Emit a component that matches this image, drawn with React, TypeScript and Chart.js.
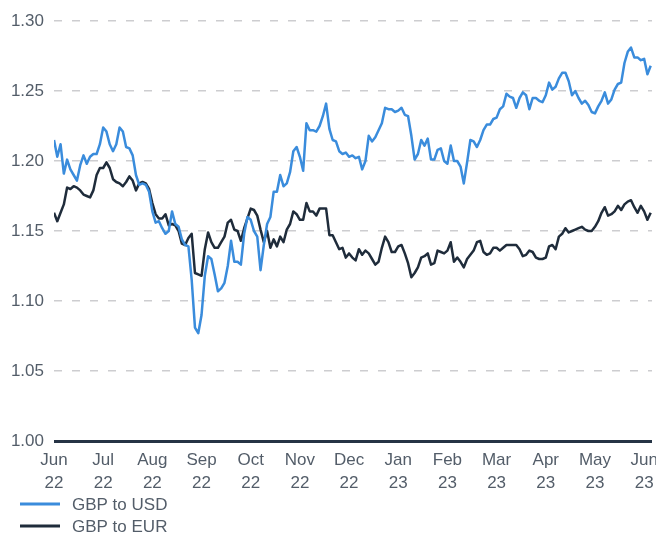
import React, { useEffect, useRef } from "react";
import { Chart, registerables } from "chart.js";

Chart.register(...registerables);

const FONT = '"Liberation Sans", Arial, sans-serif';
const TEXT_COLOR = "#535d69";

const monthLabels: string[][] = [
  ["Jun", "22"], ["Jul", "22"], ["Aug", "22"], ["Sep", "22"], ["Oct", "22"], ["Nov", "22"],
  ["Dec", "22"], ["Jan", "23"], ["Feb", "23"], ["Mar", "23"], ["Apr", "23"], ["May", "23"], ["Jun", "23"],
];
const POINTS_PER_MONTH = 15;

const seriesNames = ["GBP to USD", "GBP to EUR"];
const seriesColors = ["#3a8cdc", "#1f2c3b"];

const gbpUsd = [
  1.215, 1.203, 1.212, 1.191, 1.201, 1.194, 1.190, 1.186, 1.197, 1.204,
  1.198, 1.203, 1.205, 1.205, 1.212, 1.224, 1.221, 1.212, 1.207, 1.212,
  1.224, 1.221, 1.210, 1.209, 1.204, 1.190, 1.183, 1.184, 1.183, 1.178,
  1.164, 1.156, 1.157, 1.152, 1.148, 1.150, 1.164, 1.155, 1.153, 1.144,
  1.140, 1.139, 1.115, 1.081, 1.077, 1.090, 1.118, 1.132, 1.130, 1.119,
  1.107, 1.109, 1.113, 1.125, 1.143, 1.128, 1.128, 1.126, 1.148, 1.160,
  1.158, 1.150, 1.146, 1.122, 1.140, 1.155, 1.160, 1.178, 1.178, 1.190,
  1.182, 1.184, 1.192, 1.207, 1.210, 1.203, 1.193, 1.227, 1.222, 1.222,
  1.221, 1.225, 1.232, 1.241, 1.223, 1.215, 1.214, 1.207, 1.205, 1.206,
  1.203, 1.204, 1.202, 1.203, 1.194, 1.200, 1.218, 1.214, 1.217, 1.222,
  1.227, 1.238, 1.237, 1.237, 1.235, 1.236, 1.238, 1.233, 1.232, 1.218,
  1.201, 1.205, 1.215, 1.211, 1.216, 1.201, 1.201, 1.208, 1.209, 1.200,
  1.198, 1.211, 1.200, 1.200, 1.196, 1.184, 1.199, 1.215, 1.214, 1.210,
  1.215, 1.222, 1.226, 1.226, 1.230, 1.231, 1.237, 1.239, 1.248, 1.246,
  1.245, 1.238, 1.245, 1.249, 1.247, 1.237, 1.245, 1.245, 1.243, 1.242,
  1.247, 1.256, 1.251, 1.253, 1.259, 1.263, 1.263, 1.257, 1.247, 1.250,
  1.245, 1.241, 1.243, 1.240, 1.235, 1.234, 1.239, 1.243, 1.249, 1.241,
  1.244, 1.251, 1.255, 1.256, 1.270, 1.278, 1.281, 1.274, 1.274, 1.272,
  1.273, 1.262, 1.268,
];

const gbpEur = [
  1.163, 1.157, 1.163, 1.169, 1.181, 1.180, 1.182, 1.181, 1.179, 1.176,
  1.175, 1.174, 1.179, 1.190, 1.195, 1.195, 1.199, 1.195, 1.187, 1.185,
  1.184, 1.182, 1.185, 1.189, 1.186, 1.179, 1.184, 1.185, 1.184, 1.180,
  1.170, 1.162, 1.159, 1.159, 1.162, 1.154, 1.155, 1.154, 1.150, 1.141,
  1.140, 1.145, 1.148, 1.120, 1.119, 1.118, 1.137, 1.149, 1.142, 1.138,
  1.138, 1.142, 1.146, 1.156, 1.158, 1.151, 1.150, 1.143, 1.152, 1.159,
  1.166, 1.165, 1.161, 1.151, 1.142, 1.150, 1.138, 1.144, 1.139, 1.146,
  1.142, 1.151, 1.155, 1.164, 1.162, 1.158, 1.158, 1.170, 1.164, 1.164,
  1.161, 1.166, 1.166, 1.166, 1.147, 1.147, 1.142, 1.137, 1.138, 1.131,
  1.134, 1.131, 1.129, 1.137, 1.133, 1.136, 1.134, 1.130, 1.126, 1.128,
  1.138, 1.146, 1.142, 1.135, 1.135, 1.139, 1.140, 1.134, 1.127, 1.117,
  1.120, 1.124, 1.131, 1.132, 1.134, 1.126, 1.127, 1.136, 1.135, 1.134,
  1.136, 1.142, 1.128, 1.131, 1.128, 1.124, 1.130, 1.133, 1.136, 1.142,
  1.143, 1.135, 1.133, 1.134, 1.138, 1.138, 1.136, 1.138, 1.140, 1.140,
  1.140, 1.140, 1.137, 1.132, 1.133, 1.136, 1.135, 1.131, 1.130, 1.130,
  1.131, 1.139, 1.140, 1.137, 1.146, 1.148, 1.152, 1.149, 1.150, 1.151,
  1.152, 1.153, 1.151, 1.150, 1.150, 1.153, 1.157, 1.163, 1.167, 1.161,
  1.162, 1.164, 1.168, 1.165, 1.169, 1.171, 1.172, 1.167, 1.163, 1.168,
  1.164, 1.158, 1.163,
];

const Y_MIN = 1.0;
const Y_MAX = 1.3;
const Y_STEP = 0.05;

export default function App() {
  const ref = useRef<HTMLCanvasElement>(null);

  useEffect(() => {
    if (!ref.current) return;
    const toPoints = (arr: number[]) => arr.map((y, i) => ({ x: i, y }));
    const lastX = gbpUsd.length - 1 + 0.4;

    const stackedLegend = {
      id: "stackedLegend",
      afterDraw(chart: any) {
        const { ctx, chartArea } = chart;
        ctx.save();
        chart.data.datasets.forEach((ds: any, i: number) => {
          const y = chartArea.bottom + 63 + i * 22;
          ctx.fillStyle = ds.borderColor;
          ctx.fillRect(20, y - 1.5, 40, 3);
          ctx.fillStyle = TEXT_COLOR;
          ctx.font = `17px ${FONT}`;
          ctx.textAlign = "left";
          ctx.textBaseline = "middle";
          ctx.fillText(ds.label, 72, y + 1);
        });
        ctx.restore();
      },
    };

    const chart = new Chart(ref.current, {
      type: "line",
      data: {
        datasets: [
          {
            label: seriesNames[0],
            data: toPoints(gbpUsd),
            borderColor: seriesColors[0],
            backgroundColor: seriesColors[0],
            borderWidth: 2.5,
            pointRadius: 0,
            tension: 0,
            borderJoinStyle: "round",
          },
          {
            label: seriesNames[1],
            data: toPoints(gbpEur),
            borderColor: seriesColors[1],
            backgroundColor: seriesColors[1],
            borderWidth: 2.5,
            pointRadius: 0,
            tension: 0,
            borderJoinStyle: "round",
          },
        ],
      },
      options: {
        responsive: false,
        animation: false,
        devicePixelRatio: 1,
        layout: { padding: { top: 21, right: 4, bottom: 38, left: 0 } },
        plugins: {
          legend: { display: false },
          tooltip: { enabled: false },
        },
        scales: {
          x: {
            type: "linear",
            min: 0,
            max: lastX,
            grid: { display: false, drawTicks: false },
            border: { display: false },
            afterBuildTicks: (scale: any) => {
              scale.ticks = monthLabels.map((_, m) => ({ value: m * POINTS_PER_MONTH }));
            },
            afterFit: (scale: any) => {
              scale.height = 55;
              scale.paddingLeft = 0;
              scale.paddingRight = 0;
            },
            ticks: {
              autoSkip: false,
              maxRotation: 0,
              padding: 8,
              color: TEXT_COLOR,
              font: { family: FONT, size: 17, lineHeight: 1.35 },
              callback: (_v: any, idx: number) => monthLabels[idx],
            },
          },
          y: {
            min: Y_MIN,
            max: Y_MAX,
            afterFit: (scale: any) => {
              scale.width = 54;
            },
            grid: {
              drawTicks: false,
              color: (c: any) => (Math.abs(c.tick.value - 1) < 1e-6 ? "#263445" : "#cdcdd0"),
              lineWidth: (c: any) => (Math.abs(c.tick.value - 1) < 1e-6 ? 3 : 1.5),
            },
            border: {
              display: false,
              dash: (c: any) => (c.tick && Math.abs(c.tick.value - 1) < 1e-6 ? [] : [8, 10]),
            },
            ticks: {
              stepSize: Y_STEP,
              padding: 10,
              color: TEXT_COLOR,
              font: { family: FONT, size: 17 },
              callback: (v: any) => Number(v).toFixed(2),
            },
          },
        },
      },
      plugins: [stackedLegend],
    } as any);

    return () => chart.destroy();
  }, []);

  return (
    <div style={{ position: "absolute", left: 0, top: 0, width: 656, height: 534, background: "#fff" }}>
      <canvas ref={ref} width={656} height={534} />
    </div>
  );
}
